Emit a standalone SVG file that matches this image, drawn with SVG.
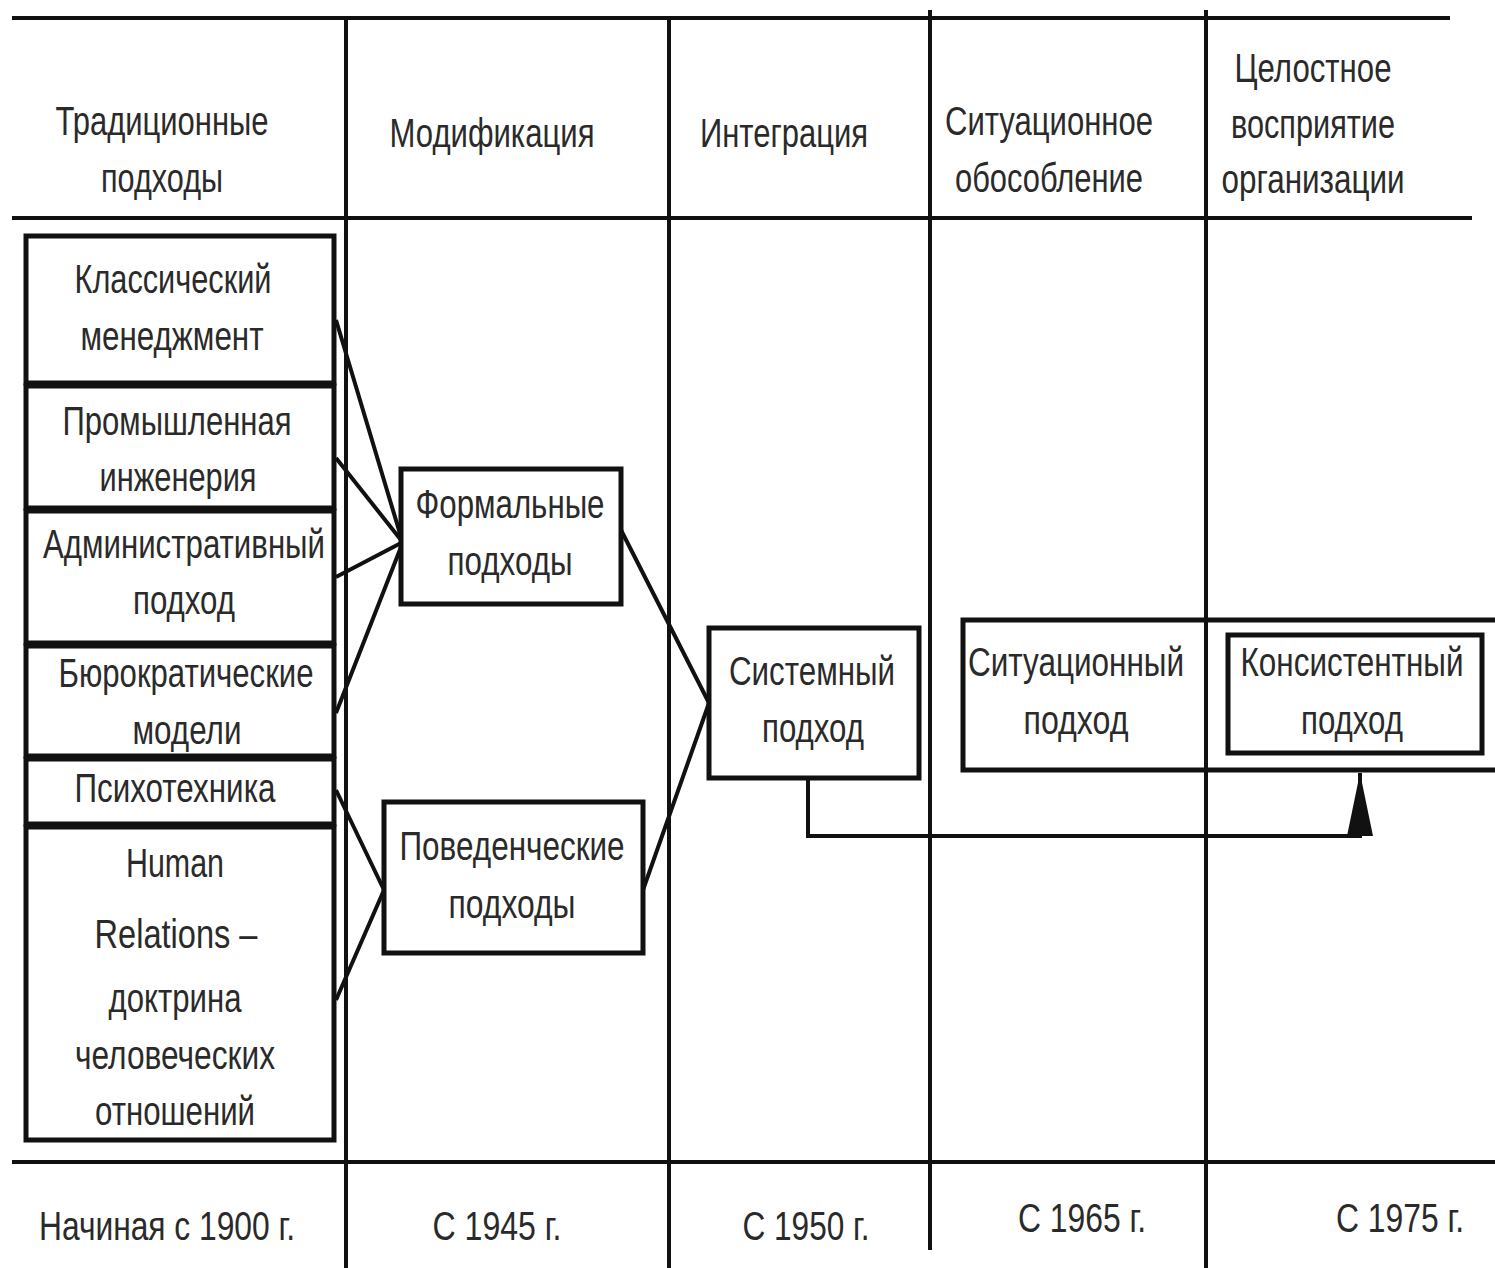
<svg xmlns="http://www.w3.org/2000/svg" width="1495" height="1268" viewBox="0 0 1495 1268">
<style>
.grid{stroke:#111;stroke-width:4;fill:none}
.box{fill:#fff;stroke:#111;stroke-width:5}
.frame{fill:none;stroke:#111;stroke-width:5}
.con{stroke:#111;stroke-width:4;fill:none}
text{font-family:"Liberation Sans",Arial,sans-serif;font-size:40px;fill:#2a2a2a;text-anchor:middle}
</style>
<defs>
<marker id="arr" viewBox="0 0 63 26" refX="63" refY="13" markerWidth="63" markerHeight="26" orient="auto" markerUnits="userSpaceOnUse">
<path d="M0,0 L63,13 L0,26 z" fill="#111"/>
</marker>
</defs>
<rect width="1495" height="1268" fill="#fff"/>
<g id="grid">
<path class="grid" d="M12,18 H1450 M12,218 H1472 M12,1162 H1495"/>
<path class="grid" d="M346,18 V1268 M669,18 V1268 M930,10 V1250 M1206,10 V1268"/>
</g>
<g id="headers">
<text x="162" y="135" textLength="213" lengthAdjust="spacingAndGlyphs">Традиционные</text>
<text x="162" y="192" textLength="122" lengthAdjust="spacingAndGlyphs">подходы</text>
<text x="492" y="147" textLength="205" lengthAdjust="spacingAndGlyphs">Модификация</text>
<text x="784" y="147" textLength="168" lengthAdjust="spacingAndGlyphs">Интеграция</text>
<text x="1049" y="135" textLength="208" lengthAdjust="spacingAndGlyphs">Ситуационное</text>
<text x="1049" y="192" textLength="188" lengthAdjust="spacingAndGlyphs">обособление</text>
<text x="1313" y="82" textLength="157" lengthAdjust="spacingAndGlyphs">Целостное</text>
<text x="1313" y="138" textLength="164" lengthAdjust="spacingAndGlyphs">восприятие</text>
<text x="1313" y="193" textLength="183" lengthAdjust="spacingAndGlyphs">организации</text>
</g>
<g id="footers">
<text x="167" y="1240" textLength="256" lengthAdjust="spacingAndGlyphs">Начиная с 1900 г.</text>
<text x="497" y="1240" textLength="129" lengthAdjust="spacingAndGlyphs">С 1945 г.</text>
<text x="806" y="1240" textLength="127" lengthAdjust="spacingAndGlyphs">С 1950 г.</text>
<text x="1082" y="1232" textLength="128" lengthAdjust="spacingAndGlyphs">С 1965 г.</text>
<text x="1400" y="1232" textLength="128" lengthAdjust="spacingAndGlyphs">С 1975 г.</text>
</g>
<g id="connectors">
<path class="con" d="M336,320 L401,537 M336,458 L401,540 M336,577 L401,543 M336,713 L401,547"/>
<path class="con" d="M336,790 L384,890 M336,1000 L384,890"/>
<path class="con" d="M621,530 L709,703 M643,890 L709,703"/>
<path class="con" d="M808,778 V836 H1360 V773" marker-end="url(#arr)"/>
</g>
<g id="n-situational">
<rect class="frame" x="963" y="620" width="540" height="150"/>
<text x="1076" y="676" textLength="216" lengthAdjust="spacingAndGlyphs">Ситуационный</text>
<text x="1076" y="734" textLength="105" lengthAdjust="spacingAndGlyphs">подход</text>
</g>
<g id="n-consistent">
<rect class="box" x="1228" y="635" width="254" height="118"/>
<text x="1352" y="676" textLength="223" lengthAdjust="spacingAndGlyphs">Консистентный</text>
<text x="1352" y="734" textLength="102" lengthAdjust="spacingAndGlyphs">подход</text>
</g>
<g id="n-classic">
<rect class="box" x="26" y="236" width="308" height="147"/>
<text x="173" y="293" textLength="197" lengthAdjust="spacingAndGlyphs">Классический</text>
<text x="172" y="350" textLength="183" lengthAdjust="spacingAndGlyphs">менеджмент</text>
</g>
<g id="n-industrial">
<rect class="box" x="26" y="386" width="308" height="122"/>
<text x="177" y="435" textLength="229" lengthAdjust="spacingAndGlyphs">Промышленная</text>
<text x="178" y="491" textLength="157" lengthAdjust="spacingAndGlyphs">инженерия</text>
</g>
<g id="n-admin">
<rect class="box" x="26" y="511" width="308" height="132"/>
<text x="184" y="558" textLength="282" lengthAdjust="spacingAndGlyphs">Административный</text>
<text x="184" y="614" textLength="102" lengthAdjust="spacingAndGlyphs">подход</text>
</g>
<g id="n-bureau">
<rect class="box" x="26" y="646" width="308" height="110"/>
<text x="186" y="687" textLength="255" lengthAdjust="spacingAndGlyphs">Бюрократические</text>
<text x="187" y="744" textLength="109" lengthAdjust="spacingAndGlyphs">модели</text>
</g>
<g id="n-psycho">
<rect class="box" x="26" y="759" width="308" height="65"/>
<text x="175" y="802" textLength="201" lengthAdjust="spacingAndGlyphs">Психотехника</text>
</g>
<g id="n-human">
<rect class="box" x="26" y="827" width="308" height="313"/>
<text x="175" y="877" textLength="98" lengthAdjust="spacingAndGlyphs">Human</text>
<text x="176" y="948" textLength="163" lengthAdjust="spacingAndGlyphs">Relations –</text>
<text x="175" y="1012" textLength="133" lengthAdjust="spacingAndGlyphs">доктрина</text>
<text x="175" y="1069" textLength="200" lengthAdjust="spacingAndGlyphs">человеческих</text>
<text x="175" y="1125" textLength="160" lengthAdjust="spacingAndGlyphs">отношений</text>
</g>
<g id="n-formal">
<rect class="box" x="401" y="469" width="220" height="135"/>
<text x="510" y="518" textLength="189" lengthAdjust="spacingAndGlyphs">Формальные</text>
<text x="510" y="575" textLength="125" lengthAdjust="spacingAndGlyphs">подходы</text>
</g>
<g id="n-behavioral">
<rect class="box" x="384" y="802" width="259" height="151"/>
<text x="512" y="860" textLength="225" lengthAdjust="spacingAndGlyphs">Поведенческие</text>
<text x="512" y="918" textLength="127" lengthAdjust="spacingAndGlyphs">подходы</text>
</g>
<g id="n-system">
<rect class="box" x="709" y="628" width="210" height="150"/>
<text x="812" y="685" textLength="166" lengthAdjust="spacingAndGlyphs">Системный</text>
<text x="813" y="742" textLength="102" lengthAdjust="spacingAndGlyphs">подход</text>
</g>
</svg>
